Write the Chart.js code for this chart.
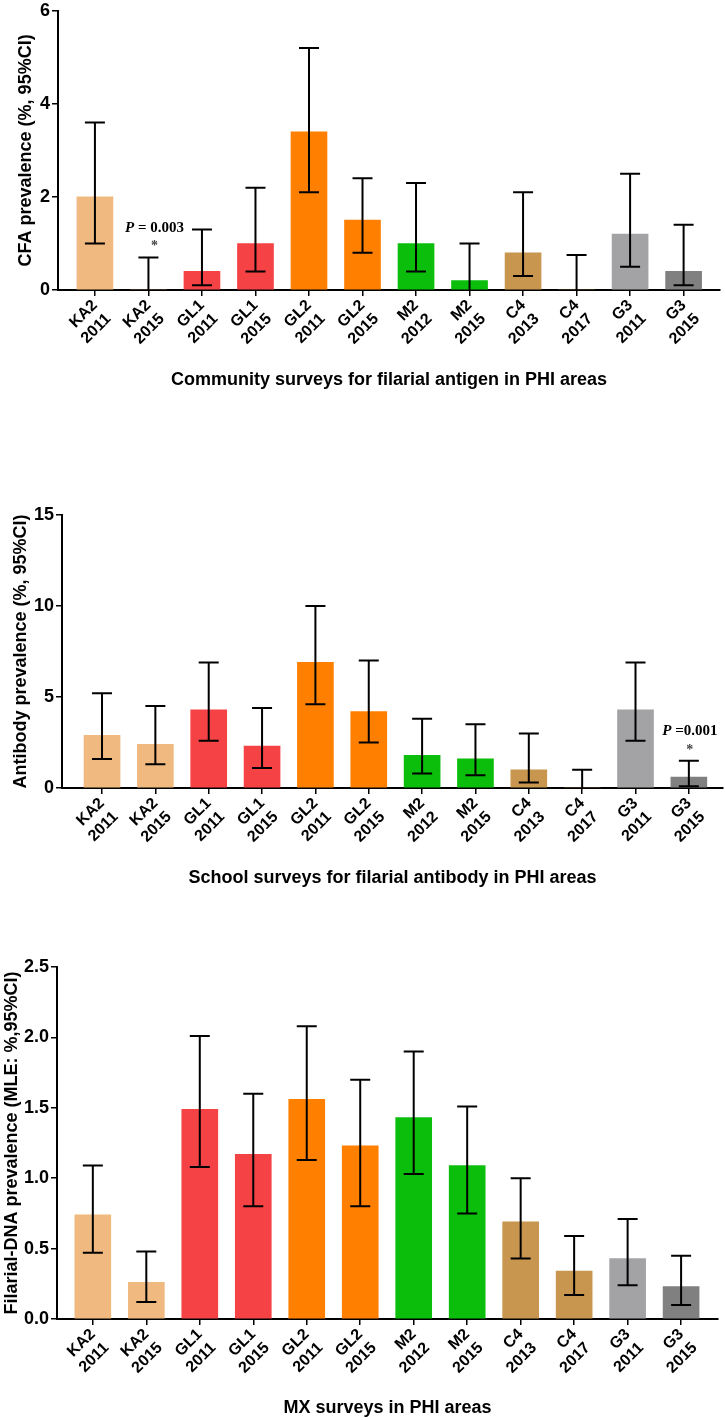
<!DOCTYPE html>
<html>
<head>
<meta charset="utf-8">
<script src="https://cdn.jsdelivr.net/npm/chart.js@4.4.0/dist/chart.umd.min.js"></script>
<style>
  body { margin: 0; background: #fff; width: 725px; height: 1420px; position: relative; overflow: hidden; }
  .box { position: absolute; left: 0; width: 725px; }
</style>
</head>
<body>
<div class="box" style="top:-2px;height:400px"><canvas id="cfa"></canvas></div>
<div class="box" style="top:400px;height:500px"><canvas id="ab"></canvas></div>
<div class="box" style="top:900px;height:520px"><canvas id="mx"></canvas></div>
<script>
// survey sites / years
const sites = [['KA2', '2011'], ['KA2', '2015'], ['GL1', '2011'], ['GL1', '2015'], ['GL2', '2011'], ['GL2', '2015'],
  ['M2', '2012'], ['M2', '2015'], ['C4', '2013'], ['C4', '2017'], ['G3', '2011'], ['G3', '2015']]
const barColors = ['#F0B97F', '#F0B97F', '#F54245', '#F54245', '#FF8000', '#FF8000',
  '#0BBE0B', '#0BBE0B', '#C8964F', '#C8964F', '#A3A3A6', '#808080']

// community CFA
const cfaValues = [2.0, 0, 0.4, 1.0, 3.4, 1.5, 1.0, 0.2, 0.8, 0, 1.2, 0.4]
const cfaLow = [1.0, 0, 0.1, 0.4, 2.1, 0.8, 0.4, 0, 0.3, 0, 0.5, 0.1]
const cfaHigh = [3.6, 0.7, 1.3, 2.2, 5.2, 2.4, 2.3, 1.0, 2.1, 0.75, 2.5, 1.4]
const cfaTicks = [0, 2, 4, 6]

// school antibody
const abValues = [2.9, 2.4, 4.3, 2.3, 6.9, 4.2, 1.8, 1.6, 1.0, 0, 4.3, 0.6]
const abLow = [1.6, 1.3, 2.6, 1.1, 4.6, 2.5, 0.8, 0.7, 0.3, 0, 2.6, 0.1]
const abHigh = [5.2, 4.5, 6.9, 4.4, 10, 7.0, 3.8, 3.5, 3.0, 1.0, 6.9, 1.5]
const abTicks = [0, 5, 10, 15]

// MX filarial DNA
const mxValues = [0.74, 0.26, 1.49, 1.17, 1.56, 1.23, 1.43, 1.09, 0.69, 0.34, 0.43, 0.23]
const mxLow = [0.47, 0.12, 1.08, 0.80, 1.13, 0.80, 1.03, 0.75, 0.43, 0.17, 0.24, 0.10]
const mxHigh = [1.09, 0.48, 2.01, 1.60, 2.08, 1.70, 1.90, 1.51, 1.00, 0.59, 0.71, 0.45]
const mxTicks = [0, 0.5, 1.0, 1.5, 2.0, 2.5]

Chart.defaults.font.family = '"Liberation Sans", Arial, sans-serif'
Chart.defaults.font.weight = 'bold'
Chart.defaults.color = '#000'

// error bars + P value note
const errorBars = {
  id: 'errorBars',
  afterDatasetsDraw(chart, args, opts) {
    const ctx = chart.ctx
    const x = chart.scales.x, y = chart.scales.y
    const half = opts.cap / 2
    ctx.save()
    ctx.strokeStyle = '#000'
    ctx.lineWidth = 2
    opts.low.forEach((lo, i) => {
      const px = x.getPixelForValue(i)
      const top = y.getPixelForValue(opts.high[i])
      const bot = y.getPixelForValue(lo)
      ctx.beginPath()
      ctx.moveTo(px, top); ctx.lineTo(px, bot)
      ctx.moveTo(px - half, top); ctx.lineTo(px + half, top)
      if (lo > 0) { ctx.moveTo(px - half, bot); ctx.lineTo(px + half, bot) }
      ctx.stroke()
    })
    if (opts.note) {
      const n = opts.note
      const cx = x.getPixelForValue(n.at) + n.dx
      const ty = y.getPixelForValue(n.textY)
      ctx.fillStyle = '#000'
      ctx.textBaseline = 'middle'
      ctx.font = 'italic bold 15px "Liberation Serif", "Times New Roman", serif'
      const w1 = ctx.measureText('P').width
      ctx.font = 'bold 15px "Liberation Serif", "Times New Roman", serif'
      const w2 = ctx.measureText(n.text).width
      let sx = cx - (w1 + w2) / 2
      ctx.textAlign = 'left'
      ctx.font = 'italic bold 15px "Liberation Serif", "Times New Roman", serif'
      ctx.fillText('P', sx, ty)
      ctx.font = 'bold 15px "Liberation Serif", "Times New Roman", serif'
      ctx.fillText(n.text, sx + w1, ty)
      ctx.textAlign = 'center'
      ctx.fillStyle = '#444'
      ctx.font = 'bold 14px "Liberation Serif", serif'
      ctx.fillText('*', cx, y.getPixelForValue(n.starY) + 3)
    }
    ctx.restore()
  }
}

function makeChart(id, vals, low, high, yTicks, o) {
  new Chart(document.getElementById(id), {
    type: 'bar',
    data: {
      datasets: [{
        data: vals.map((v, i) => ({ x: i, y: v })),
        backgroundColor: barColors,
        borderWidth: 0,
        barThickness: 36
      }]
    },
    options: {
      responsive: true,
      maintainAspectRatio: false,
      animation: false,
      layout: { padding: { top: o.padTop, right: o.padRight, bottom: o.padBottom, left: 0 } },
      plugins: {
        legend: { display: false },
        tooltip: { enabled: false },
        errorBars: { low: low, high: high, cap: 20, note: o.note }
      },
      scales: {
        x: {
          type: 'linear',
          offset: false,
          min: o.xMin,
          max: o.xMax,
          afterBuildTicks: s => { s.ticks = sites.map((_, i) => ({ value: i })) },
          afterFit: s => { s.height = o.xHeight },
          ticks: {
            callback: v => sites[v],
            minRotation: 45,
            maxRotation: 45,
            autoSkip: false,
            padding: 0,
            font: { size: 16, weight: 'bold' }
          },
          grid: { offset: false, drawOnChartArea: false, tickLength: 6, color: '#000', lineWidth: 1.5 },
          border: { color: '#000', width: 2 },
          title: { display: true, text: o.xTitle, padding: 0, font: { size: 18, weight: 'bold' } }
        },
        y: {
          min: 0,
          max: yTicks[yTicks.length - 1],
          afterBuildTicks: s => { s.ticks = yTicks.map(v => ({ value: v })) },
          afterFit: s => { s.width = o.yWidth },
          ticks: {
            padding: 2,
            callback: v => o.decimals ? v.toFixed(1) : v,
            font: { size: 18, weight: 'bold' }
          },
          grid: { drawOnChartArea: false, tickLength: 6, color: '#000', lineWidth: 1.5 },
          border: { color: '#000', width: 2 },
          title: { display: true, text: o.yTitle, padding: { top: o.yTitlePad, bottom: 0 }, font: { size: 18, weight: 'bold' } }
        }
      }
    },
    plugins: [errorBars]
  })
}

makeChart('cfa', cfaValues, cfaLow, cfaHigh, cfaTicks, {
  padTop: 0, padRight: 5, padBottom: 7, xHeight: 101, yWidth: 58, yTitlePad: 15,
  xMin: -0.69, xMax: 11.68,
  xTitle: 'Community surveys for filarial antigen in PHI areas',
  yTitle: 'CFA prevalence (%, 95%CI)',
  note: { at: 1, dx: 6, textY: 1.32, starY: 1.0, text: ' = 0.003' }
})

makeChart('ab', abValues, abLow, abHigh, abTicks, {
  padTop: 115, padRight: 2, padBottom: 11, xHeight: 101, yWidth: 62, yTitlePad: 10,
  xMin: -0.75, xMax: 11.64,
  xTitle: 'School surveys for filarial antibody in PHI areas',
  yTitle: 'Antibody prevalence (%, 95%CI)',
  note: { at: 11, dx: 1, textY: 3.13, starY: 2.25, text: ' =0.001' }
})

makeChart('mx', mxValues, mxLow, mxHigh, mxTicks, {
  padTop: 67, padRight: 7, padBottom: 1, xHeight: 100, yWidth: 57, yTitlePad: 1,
  xMin: -0.67, xMax: 11.69, decimals: true,
  xTitle: 'MX surveys in PHI areas',
  yTitle: 'Filarial-DNA prevalence (MLE: %,95%CI)'
})
</script>
</body>
</html>
